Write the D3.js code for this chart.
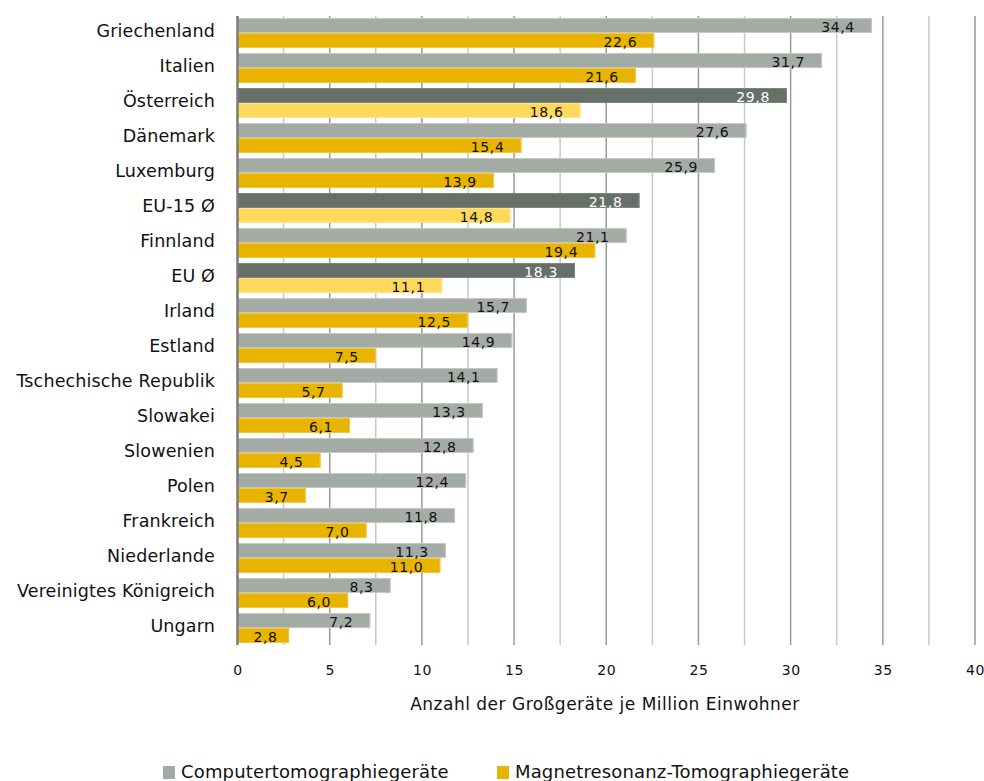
<!DOCTYPE html>
<html><head><meta charset="utf-8">
<script src="https://cdn.jsdelivr.net/npm/d3@7"></script>
<style>body{margin:0;background:#fff}svg{display:block}text{font-family:"DejaVu Sans",sans-serif}</style>
</head><body><svg id="c" width="984" height="781"></svg>
<script>
const categories = ["Griechenland","Italien","Österreich","Dänemark","Luxemburg","EU-15 Ø","Finnland","EU Ø","Irland","Estland","Tschechische Republik","Slowakei","Slowenien","Polen","Frankreich","Niederlande","Vereinigtes Königreich","Ungarn"];
const ctValues = [34.4,31.7,29.8,27.6,25.9,21.8,21.1,18.3,15.7,14.9,14.1,13.3,12.8,12.4,11.8,11.3,8.3,7.2];
const mrtValues = [22.6,21.6,18.6,15.4,13.9,14.8,19.4,11.1,12.5,7.5,5.7,6.1,4.5,3.7,7.0,11.0,6.0,2.8];
const highlighted = ["Österreich","EU-15 Ø","EU Ø"];
const xTicks = [0,5,10,15,20,25,30,35,40];
const seriesNames = ["Computertomographiegeräte","Magnetresonanz-Tomographiegeräte"];
const axisTitle = "Anzahl der Großgeräte je Million Einwohner";

const svg = d3.select("#c");
const x = d3.scaleLinear().domain([0,40]).range([237.5,975]);
const y = d3.scaleBand().domain(categories).range([15.5,645.5]).paddingInner(5/35).paddingOuter(2.5/35);
const bh = y.bandwidth()/2;
const gridTop = 16, gridBot = 645;

// grid
const minor = d3.range(2.5,40.1,5);
svg.append("g").selectAll("line").data(minor).join("line")
  .attr("x1",d=>x(d)).attr("x2",d=>x(d)).attr("y1",gridTop).attr("y2",gridBot)
  .attr("stroke","#c8c8c8").attr("stroke-width",1.5);
svg.append("g").selectAll("line").data(xTicks.slice(1)).join("line")
  .attr("x1",d=>x(d)).attr("x2",d=>x(d)).attr("y1",gridTop).attr("y2",gridBot)
  .attr("stroke","#9a9a9a").attr("stroke-width",1.5);

const colors = {ct:"#a4aba5", ctH:"#667068", mrt:"#e9b400", mrtH:"#ffd95b"};
const strokes = {ct:"#c4c9c5", ctH:"#7d857f", mrt:"#f0c840", mrtH:"#ffe58a"};

const rows = categories.map((c,i)=>({c, ct:ctValues[i], mrt:mrtValues[i], h:highlighted.includes(c)}));
const g = svg.append("g");
rows.forEach(r=>{
  const y0 = y(r.c);
  [["ct",r.ct,y0],["mrt",r.mrt,y0+bh]].forEach(([k,v,yy])=>{
    const key = k + (r.h?"H":"");
    g.append("rect").attr("x",x(0)).attr("y",yy).attr("width",x(v)-x(0)).attr("height",bh)
      .attr("fill",colors[key]);
    g.append("rect").attr("x",x(0)+0.5).attr("y",yy+0.5).attr("width",Math.max(0,x(v)-x(0)-1)).attr("height",bh-1)
      .attr("fill","none").attr("stroke",strokes[key]).attr("stroke-width",1);
  });
});
// axis line
svg.append("line").attr("x1",x(0)).attr("x2",x(0)).attr("y1",gridTop).attr("y2",gridBot)
  .attr("stroke","#7a7a7a").attr("stroke-width",2.5);

// value labels
rows.forEach(r=>{
  const y0 = y(r.c);
  [["ct",r.ct,y0],["mrt",r.mrt,y0+bh]].forEach(([k,v,yy])=>{
    const t = g.append("text").attr("y",yy+bh-1.5).attr("font-size",14).attr("letter-spacing",0.6)
      .attr("text-anchor","end").attr("fill",(k==="ct"&&r.h)?"#ffffff":"#111")
      .text(d3.format(".1f")(v).replace(".",","));
    const w = t.node().getComputedTextLength();
    const xe = Math.max(x(v)-17, x(0)+16+w);
    t.attr("x",xe);
  });
});

// category labels
svg.append("g").selectAll("text").data(categories).join("text")
  .attr("x",215).attr("y",d=>y(d)+19).attr("text-anchor","end")
  .attr("font-size",17.5).attr("letter-spacing",0.15).attr("fill","#111").text(d=>d);

// x axis ticks
const ax = svg.append("g").attr("transform",`translate(0,675)`)
  .call(d3.axisBottom(x).tickValues(xTicks).tickSize(0).tickFormat(d3.format("d")));
ax.select(".domain").remove();
ax.selectAll("text").attr("font-size",14).attr("fill","#111").attr("dy",0).attr("y",0).attr("letter-spacing",0.6)
  .style("font-family",'"DejaVu Sans",sans-serif');

svg.append("text").attr("x",605).attr("y",710).attr("text-anchor","middle")
  .attr("font-size",17).attr("fill","#111").attr("letter-spacing",0.5).text(axisTitle);

// legend
const leg = [{x:163, c:colors.ct, t:seriesNames[0]},{x:497, c:colors.mrt, t:seriesNames[1]}];
leg.forEach(l=>{
  svg.append("rect").attr("x",l.x).attr("y",766).attr("width",12).attr("height",13).attr("fill",l.c);
  svg.append("text").attr("x",l.x+18).attr("y",778).attr("font-size",18).attr("letter-spacing",0.15).attr("fill","#111").text(l.t);
});
</script></body></html>
